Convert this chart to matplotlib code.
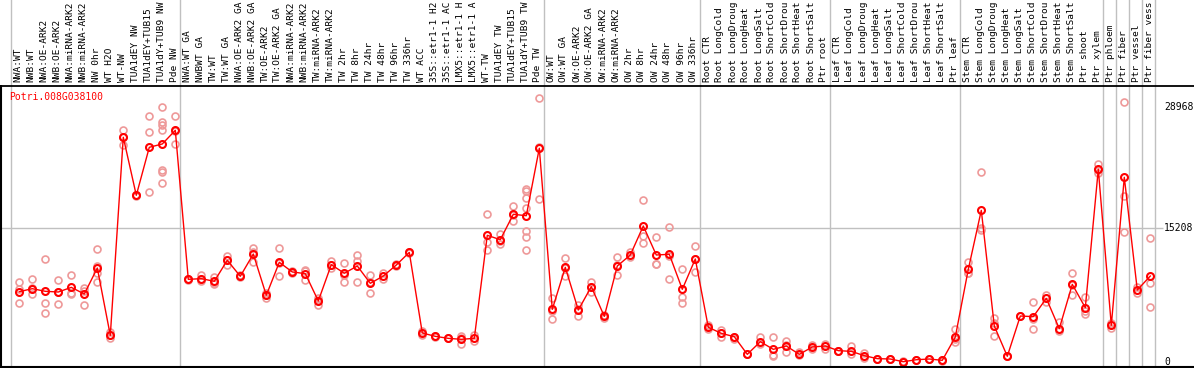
import matplotlib
matplotlib.use("Agg")
import matplotlib.pyplot as plt

gene = "Potri.008G038100"

categories = [
    "NWA:WT", "NWB:WT", "NWA:OE-ARK2", "NWB:OE-ARK2", "NWA:miRNA-ARK2", "NWB:miRNA-ARK2",
    "NW 0hr", "WT H2O", "WT-NW", "TUA1dEY NW", "TUA1dEY+TUB15", "TUA1dY+TUB9 NW", "Pde NW",
    "NWA:WT GA", "NWBWT GA", "TW:WT", "TW:WT GA", "NWA:OE-ARK2 GA", "NWB:OE-ARK2 GA",
    "TW:OE-ARK2", "TW:OE-ARK2 GA", "NWA:miRNA-ARK2", "NWB:miRNA-ARK2", "TW:miRNA-ARK2",
    "TW:miRNA-ARK2", "TW 2hr", "TW 8hr", "TW 24hr", "TW 48hr", "TW 96hr", "TW 336hr",
    "WT ACC", "35S::etr1-1 H2", "35S::etr1-1 AC", "LMX5::etr1-1 H", "LMX5::etr1-1 A",
    "WT-TW", "TUA1dEY TW", "TUA1dEY+TUB15", "TUA1dY+TUB9 TW", "Pde TW",
    "OW:WT", "OW:WT GA", "OW:OE-ARK2", "OW:OE-ARK2 GA", "OW:miRNA-ARK2", "OW:miRNA-ARK2",
    "OW 2hr", "OW 8hr", "OW 24hr", "OW 48hr", "OW 96hr", "OW 336hr",
    "Root CTR", "Root LongCold", "Root LongDroug", "Root LongHeat", "Root LongSalt",
    "Root ShortCold", "Root ShortDrou", "Root ShortHeat", "Root ShortSalt", "Ptr root",
    "Leaf CTR", "Leaf LongCold", "Leaf LongDroug", "Leaf LongHeat", "Leaf LongSalt",
    "Leaf ShortCold", "Leaf ShortDrou", "Leaf ShortHeat", "Leaf ShortSalt", "Ptr leaf",
    "Stem CTR", "Stem LongCold", "Stem LongDroug", "Stem LongHeat", "Stem LongSalt",
    "Stem ShortCold", "Stem ShortDrou", "Stem ShortHeat", "Stem ShortSalt", "Ptr shoot",
    "Ptr xylem", "Ptr phloem", "Ptr fiber", "Ptr vessel", "Ptr fiber vess",
]

group_sizes = [13, 28, 12, 10, 10, 11, 1, 1, 1, 1]

means = [
    8000, 8340, 8040, 7960, 8490, 7734, 10690, 3030, 25560, 18960, 24420, 24800, 26350,
    9400, 9480, 9180, 11570, 9750, 12280, 7590, 11340, 10240, 10050, 6940, 11070,
    10090, 10920, 8950, 9780, 11030, 12470, 3300, 2920, 2690, 2580, 2690,
    14410, 13910, 16800, 16640, 24310,
    5990, 10770, 5910, 8570, 5190, 10920, 12170, 15470, 12170, 12250, 8270, 11720,
    3950, 3260, 2880, 870, 2310, 1440, 1820, 870, 1710, 1820,
    1290, 1210, 720, 380, 340, 30, 260, 340, 190, 2840,
    10540, 17250, 4090, 650, 5230, 5160, 7240, 3790, 8830, 6180, 21920,
    4170, 21010, 8190, 9780,
]

replicates = [
    [9060, 8300, 6680], [9440, 8400, 7730], [11680, 6680, 5540], [9290, 6560, 8000],
    [9860, 7810, 7700], [8450, 8100, 6450], [12850, 10950, 10100, 9065], [3450, 3030, 2700],
    [26390, 24680, 25600], [18900, 19000, 18960], [27980, 26120, 19340],
    [28970, 27330, 27000, 26420, 21840, 21600, 20320], [27980, 24760, 26300],
    [9480, 9300, 9400], [9860, 9200, 9400], [9700, 8870, 9000], [12090, 11030, 11600],
    [9850, 9650], [12930, 11410, 12500], [7900, 7245, 7600], [12930, 9780, 11300],
    [10300, 10150], [10450, 9330, 10300], [6480, 7300, 7000], [11450, 10700, 11050],
    [11230, 9135, 9900], [12170, 11500, 9060], [9900, 7810, 9150], [10150, 9450],
    [11100, 10950], [12500, 12440], [3550, 3050], [2950, 2900], [2700, 2680],
    [2950, 2050, 2750], [3050, 2350],
    [16800, 13680, 12740], [14560, 13420, 13750], [17710, 16000, 16700],
    [19710, 19400, 18690, 17480, 14930, 14180, 12700], [29990, 18540, 24400],
    [7280, 4930, 5760], [11790, 9780, 10740], [6460, 5270, 6000], [9135, 8000, 8570],
    [4980, 5400], [11900, 9860, 11000], [12500, 11900], [18430, 14370, 13570],
    [14180, 11150, 11200], [15320, 9400, 12030], [10540, 7360, 6680], [13190, 10200, 11770],
    [4200, 3700], [3650, 2810, 3300], [2880, 2600], [870, 900], [2810, 2050],
    [2810, 720, 800], [2400, 1140, 1900], [1150, 800], [1950, 1450], [2100, 1450],
    [1300, 1250], [1820, 900], [1050, 400], [380, 350], [340, 360], [30, 60],
    [270, 250], [330, 350], [200, 150], [3720, 2240, 2560],
    [11370, 10160, 10100], [21570, 15010, 15200], [4970, 2920, 4400], [650, 700],
    [5230, 5200], [6820, 3750, 4900], [7650, 6850], [4600, 3500], [10090, 7590, 8800],
    [7360, 5420, 5800], [22520, 21460, 21800],
    [4400, 3900], [29540, 18880, 14750], [8550, 7900], [14070, 8950, 6220],
]

ytick_values = [0, 15208, 28968]
grid_value = 15208

# ---------------- layout (pixels) ----------------
W, H = 1194, 370
fig = plt.figure(figsize=(W / 100, H / 100), dpi=100)
plot_top, plot_bot = 85, 368
x0_px, step_px = 19.3, 13.0
y0_px, px_per_unit = 362.0, 0.008792

def px_to_idx(p):
    return (p - x0_px) / step_px

def py_to_val(p):
    return (y0_px - p) / px_per_unit

ax = fig.add_axes([0, (H - plot_bot) / H, 1, (plot_bot - plot_top) / H])
axl = fig.add_axes([0, (H - plot_top) / H, 1, plot_top / H])

xmin, xmax = px_to_idx(0), px_to_idx(W)
for a in (ax, axl):
    a.set_xlim(xmin, xmax)
    a.set_xticks([])
    a.set_yticks([])
    for s in a.spines.values():
        s.set_visible(False)
ax.set_ylim(py_to_val(plot_bot), py_to_val(plot_top))
axl.set_ylim(0, 1)

mono = "DejaVu Sans Mono"
grey = "#c0c0c0"

# group separators
starts = []
acc = 0
for g in group_sizes:
    starts.append(acc)
    acc += g
sep_positions = [s - 0.67 for s in starts] + [acc - 0.67]
for sp in sep_positions:
    ax.axvline(sp, color=grey, lw=1, zorder=1)
    axl.axvline(sp, color=grey, lw=1, zorder=1)

# horizontal grid line
ax.hlines(grid_value, xmin, px_to_idx(1163), color=grey, lw=1, zorder=1)

# frame lines
ax.axhline(py_to_val(plot_top + 0.5), color="black", lw=1.3, zorder=5)
ax.axhline(py_to_val(plot_bot - 0.7), color="black", lw=1.5, zorder=5)
ax.axvline(px_to_idx(1.3), color="black", lw=1.5, zorder=5)

idx = list(range(len(categories)))

# replicates
rx, ry = [], []
for i, reps in enumerate(replicates):
    for v in reps:
        rx.append(i)
        ry.append(v)
ax.plot(rx, ry, ls="none", marker="o", ms=5, mfc="none", mec="#ee9999",
        mew=1.2, zorder=2)

# means
ax.plot(idx, means, color="red", lw=1, marker="o", ms=5, mfc="none",
        mec="red", mew=1.5, zorder=3)

# y tick labels on the right
for v in ytick_values:
    ax.text(px_to_idx(1164), v, str(v), fontsize=7, family=mono, color="black",
            ha="left", va="center")

# gene name
ax.text(px_to_idx(9), py_to_val(97), gene, fontsize=7, family=mono,
        color="red", ha="left", va="center")

# category labels
for i, c in enumerate(categories):
    axl.text(i - 0.1, (plot_top - 82) / plot_top, c, rotation=90, fontsize=6.8,
             family=mono, ha="center", va="bottom", color="black")

fig.savefig("out.png", dpi=100)
